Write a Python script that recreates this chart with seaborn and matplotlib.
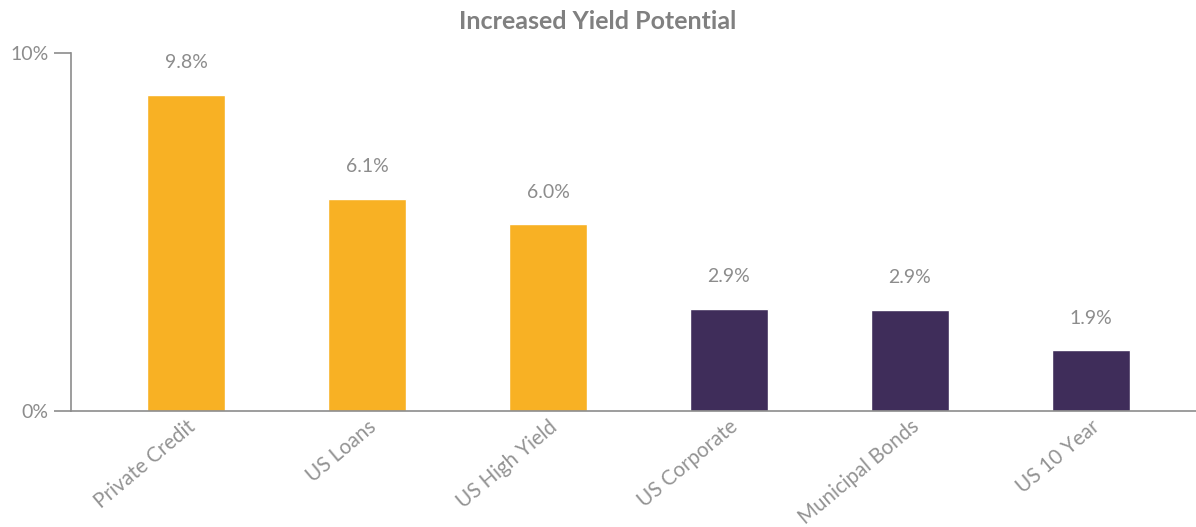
import numpy as np
import pandas as pd
import matplotlib.pyplot as plt
import seaborn as sns

sns.set_theme(style="white")
plt.rcParams["font.family"] = ["Lato", "DejaVu Sans"]

categorias = ["Private Credit", "US Loans", "US High Yield", "US Corporate", "Municipal Bonds", "US 10 Year"]
alturas = [8.83, 5.92, 5.22, 2.85, 2.82, 1.70]
rotulos = ["9.8%", "6.1%", "6.0%", "2.9%", "2.9%", "1.9%"]
grupo = ["alt", "alt", "alt", "trad", "trad", "trad"]

cor_texto = "#8c8c8c"
paleta = {"alt": "#F8B124", "trad": "#3F2D5A"}

df = pd.DataFrame({"categoria": categorias, "altura": alturas, "grupo": grupo})

fig = plt.figure(figsize=(11.96, 5.27), dpi=100)
ax = fig.add_axes([0.0594, 0.2201, 0.9406, 0.6793])

sns.barplot(data=df, x="categoria", y="altura", hue="grupo", palette=paleta,
            width=0.43, legend=False, ax=ax, saturation=1)

for i, (h, r) in enumerate(zip(alturas, rotulos)):
    ax.annotate(r, (i, h), xytext=(0, 17), textcoords="offset points",
                ha="center", va="bottom", fontsize=14, color=cor_texto)

ax.set_xlim(-0.635, 5.58)
ax.set_ylim(0, 10)
ax.set_yticks([0, 10])
ax.set_yticklabels(["0%", "10%"], fontsize=14, color=cor_texto)
ax.set_xlabel("")
ax.set_ylabel("")
ax.tick_params(axis="y", length=12, width=1.2, color="#8c8c8c", left=True, pad=4)
ax.tick_params(axis="x", length=0, pad=4)
plt.setp(ax.get_xticklabels(), rotation=40, ha="right", rotation_mode="anchor",
         fontsize=14.8, color="#939393")

for lado in ["top", "right"]:
    ax.spines[lado].set_visible(False)
ax.spines["left"].set_color("#8c8c8c")
ax.spines["bottom"].set_color("#8c8c8c")
ax.spines["left"].set_linewidth(1.2)
ax.spines["bottom"].set_linewidth(1.2)

fig.text(0.5, 0.96, "Increased Yield Potential", ha="center", va="center",
         fontsize=18, fontweight="bold", color="#808080")

fig.savefig("out.png", dpi=100)
